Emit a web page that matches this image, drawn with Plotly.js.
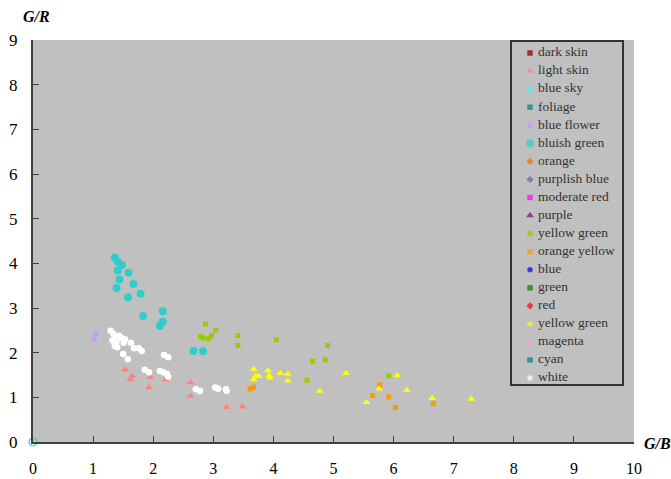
<!DOCTYPE html>
<html>
<head>
<meta charset="utf-8">
<script src="https://cdn.plot.ly/plotly-3.0.1.min.js"></script>
<style>html,body{margin:0;padding:0;background:#fff;}#chart{width:671px;height:479px;}</style>
</head>
<body>
<div id="chart"></div>
<script>
// ---- Data (G/B on x, G/R on y) ----
const seriesNames = ["dark skin","light skin","blue sky","foliage","blue flower","bluish green","orange","purplish blue","moderate red","purple","yellow green","orange yellow","blue","green","red","yellow green","magenta","cyan","white"];
const seriesColors = ["#800000","#ff8080","#33ffff","#008080","#cc99ff","#33cccc","#ff6600","#666699","#ff00ff","#800080","#99cc00","#ff9900","#0000ff","#008000","#ff0000","#ffff00","#ff99cc","#008080","#ffffff"];
const seriesSymbols = ["square","triangle-up","x-thin-open","square","square","circle","diamond","diamond","square","triangle-up","square","square","circle","square","diamond","triangle-up","circle","square","circle"];

const darkSkinGB = [], darkSkinGR = [];
const lightSkinGB = [1.53,1.65,1.62,1.95,1.93,2.21,2.62,2.62,3.22,3.48];
const lightSkinGR = [1.62,1.48,1.40,1.45,1.22,1.40,1.33,1.03,0.78,0.79];
const blueSkyGB = [0], blueSkyGR = [0];
const foliageGB = [], foliageGR = [];
const blueFlowerGB = [1.04,1.01];
const blueFlowerGR = [2.42,2.30];
const bluishGreenGB = [1.36,1.41,1.48,1.41,1.59,1.44,1.67,1.39,1.58,1.79,2.16,1.83,2.16,2.11,2.67,2.83];
const bluishGreenGR = [4.13,4.04,3.96,3.84,3.79,3.64,3.54,3.45,3.24,3.32,2.93,2.82,2.69,2.60,2.04,2.03];
const orangeGB = [], orangeGR = [];
const purplishBlueGB = [], purplishBlueGR = [];
const moderateRedGB = [], moderateRedGR = [];
const purpleGB = [], purpleGR = [];
const yellowGreenGB = [2.87,3.04,2.79,2.83,2.97,2.92,3.41,3.41,4.05,4.90,4.65,4.86,4.56,5.92];
const yellowGreenGR = [2.64,2.51,2.36,2.33,2.38,2.31,2.38,2.16,2.29,2.16,1.81,1.84,1.38,1.48];
const orangeYellowGB = [3.61,3.67,5.77,5.65,5.92,6.03,6.66];
const orangeYellowGR = [1.19,1.23,1.28,1.04,1.01,0.77,0.86];
const blueGB = [], blueGR = [];
const greenGB = [], greenGR = [];
const redGB = [], redGR = [];
const yellowGreen2GB = [3.67,3.71,3.76,3.67,3.91,3.93,3.94,4.12,4.24,4.24,4.77,5.21,5.55,5.76,6.06,6.22,6.64,7.29];
const yellowGreen2GR = [1.63,1.48,1.47,1.40,1.60,1.49,1.44,1.54,1.52,1.37,1.14,1.54,0.89,1.19,1.49,1.16,0.98,0.96];
const magentaGB = [], magentaGR = [];
const cyanGB = [], cyanGR = [];
const whiteGB = [1.29,1.34,1.43,1.38,1.46,1.53,1.32,1.39,1.51,1.36,1.40,1.63,1.68,1.76,1.81,1.50,1.58,2.18,2.25,1.86,1.93,2.11,2.17,2.23,2.25,2.71,2.78,3.03,3.08,3.21,3.22];
const whiteGR = [2.49,2.42,2.38,2.32,2.34,2.30,2.27,2.25,2.22,2.15,2.12,2.22,2.10,2.10,2.04,1.97,1.85,1.95,1.90,1.62,1.56,1.59,1.56,1.52,1.46,1.18,1.14,1.22,1.19,1.18,1.15];

const seriesX = [darkSkinGB,lightSkinGB,blueSkyGB,foliageGB,blueFlowerGB,bluishGreenGB,orangeGB,purplishBlueGB,moderateRedGB,purpleGB,yellowGreenGB,orangeYellowGB,blueGB,greenGB,redGB,yellowGreen2GB,magentaGB,cyanGB,whiteGB];
const seriesY = [darkSkinGR,lightSkinGR,blueSkyGR,foliageGR,blueFlowerGR,bluishGreenGR,orangeGR,purplishBlueGR,moderateRedGR,purpleGR,yellowGreenGR,orangeYellowGR,blueGR,greenGR,redGR,yellowGreen2GR,magentaGR,cyanGR,whiteGR];

// ---- styles ----
const serif = "Liberation Serif";
function plotSize(sym, i){
  if (i === 5) return 8;
  if (i === 18) return 6.5;
  if (sym.indexOf("triangle") === 0) return 7;
  return 5;
}
function legendSize(sym, i){
  if (i === 5) return 8;
  if (sym.indexOf("triangle") === 0) return 7;
  return 5.5;
}

const traces = [];
seriesNames.forEach((name, i) => {
  const isOrigin = (i === 2);
  traces.push({
    type: "scatter", mode: "markers", name: name,
    x: seriesX[i], y: seriesY[i],
    xaxis: "x", yaxis: "y",
    cliponaxis: false, showlegend: false, hoverinfo: "x+y+name",
    marker: isOrigin
      ? {symbol: "circle-open", size: 8, color: "#33cccc", line: {width: 1.2, color: "#33cccc"}}
      : {symbol: seriesSymbols[i], size: plotSize(seriesSymbols[i], i), color: seriesColors[i], line: {width: 0}}
  });
});

// Hand-laid legend on its own axes (units: pixels inside the box)
const rowIdx = seriesNames.map((_, i) => i);
const rowY = rowIdx.map(i => 12 + 18.06 * i);
traces.push({
  type: "scatter", mode: "markers", xaxis: "x2", yaxis: "y2",
  x: rowIdx.map(() => 19), y: rowY, showlegend: false, hoverinfo: "skip", cliponaxis: false,
  marker: {
    symbol: seriesSymbols,
    size: seriesSymbols.map((s, i) => legendSize(s, i)),
    color: seriesColors,
    line: {width: seriesSymbols.map(s => s === "x-thin-open" ? 1.5 : 0), color: seriesColors}
  }
});
traces.push({
  type: "scatter", mode: "text", xaxis: "x2", yaxis: "y2",
  x: rowIdx.map(() => 27), y: rowY, text: seriesNames, textposition: "middle right",
  showlegend: false, hoverinfo: "skip", cliponaxis: false,
  textfont: {family: serif, size: 13.5, color: "#333333"}
});

const W = 671, H = 479;
const L = 33, R = 37, T = 40, B = 37;
const pw = W - L - R, ph = H - T - B;
function px2fx(p){ return (p - L) / pw; }
function py2fy(p){ return (H - B - p) / ph; }

const layout = {
  width: W, height: H,
  margin: {l: L, r: R, t: T, b: B, pad: 0},
  paper_bgcolor: "#ffffff", plot_bgcolor: "#c0c0c0",
  showlegend: false,
  font: {family: serif, color: "#000"},
  xaxis: {
    range: [0, 10], dtick: 1, tick0: 0, ticks: "inside", ticklen: 6, tickwidth: 1, tickcolor: "#404040",
    showline: true, linecolor: "#404040", linewidth: 2, showgrid: false, zeroline: false,
    tickfont: {family: serif, size: 16, color: "#000"}, ticklabelstandoff: 11, fixedrange: true
  },
  yaxis: {
    range: [0, 9], dtick: 1, tick0: 0, ticks: "inside", ticklen: 6, tickwidth: 1, tickcolor: "#404040",
    showline: true, linecolor: "#404040", linewidth: 2, showgrid: false, zeroline: false,
    tickfont: {family: serif, size: 17, color: "#000"}, ticklabelstandoff: 10, fixedrange: true
  },
  xaxis2: {domain: [px2fx(511), px2fx(623)], range: [0, 112], anchor: "y2", visible: false, fixedrange: true},
  yaxis2: {domain: [py2fy(385), py2fy(41)], range: [344, 0], anchor: "x2", visible: false, fixedrange: true},
  shapes: [{
    type: "rect", xref: "x2 domain", yref: "y2 domain", x0: 0, x1: 1, y0: 0, y1: 1,
    line: {color: "#333333", width: 2}, fillcolor: "rgba(0,0,0,0)"
  }],
  annotations: [
    {text: "G/R", xref: "paper", yref: "paper", x: px2fx(36), y: py2fy(16), xanchor: "center", yanchor: "middle",
     showarrow: false, font: {family: serif, size: 16, style: "italic", weight: "bold", color: "#000"}},
    {text: "G/B", xref: "paper", yref: "paper", x: px2fx(657), y: py2fy(443), xanchor: "center", yanchor: "middle",
     showarrow: false, font: {family: serif, size: 16, style: "italic", weight: "bold", color: "#000"}}
  ]
};

Plotly.newPlot("chart", traces, layout, {staticPlot: true, displayModeBar: false});
</script>
</body>
</html>
